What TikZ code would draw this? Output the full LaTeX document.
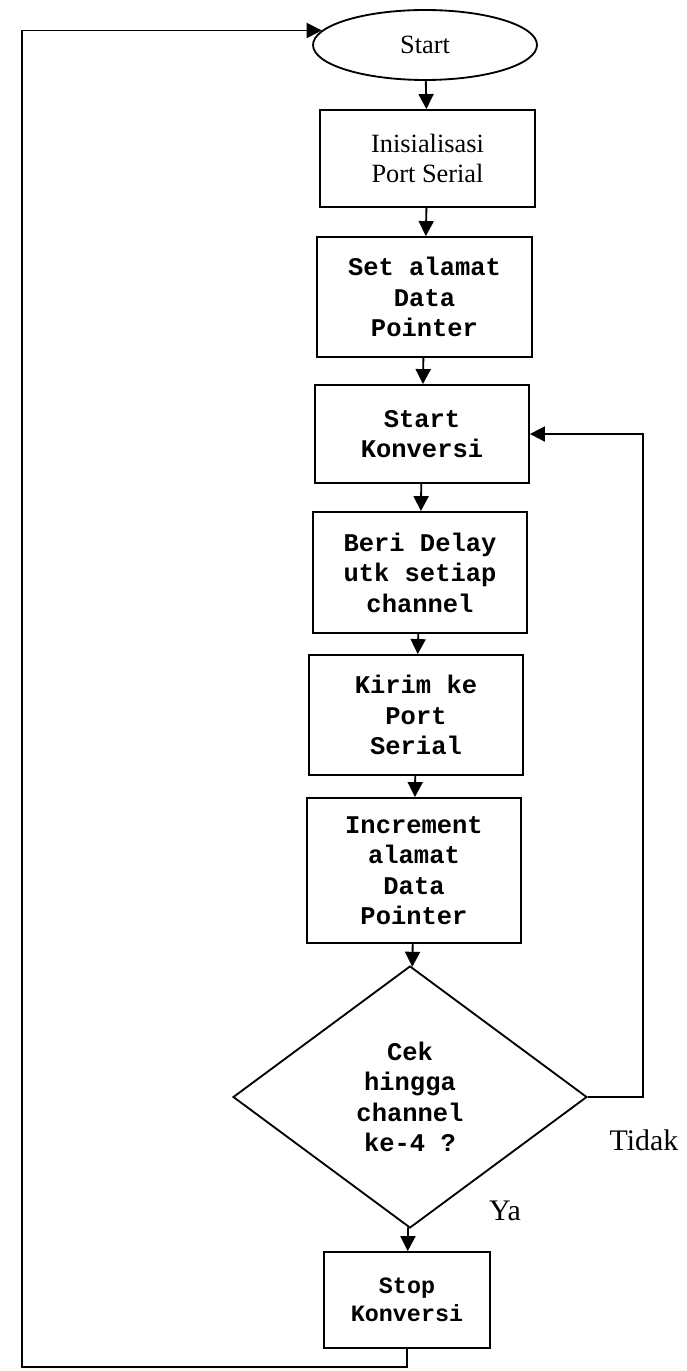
\documentclass[tikz,border=0pt]{standalone}
\usepackage{fontspec}
\setmainfont{Liberation Serif}
\newfontfamily\cour{Liberation Mono}
\usetikzlibrary{shapes.geometric,arrows.meta}
\begin{document}
\begin{tikzpicture}[x=0.02cm,y=-0.02cm,
  line width=1.05pt,
  arr/.style={-{Triangle[length=0.3cm,width=0.3cm]}},
  box/.style={draw, rectangle, align=center, inner sep=0pt,
    font=\cour\bfseries\fontsize{14.5}{17.3}\selectfont},
  serbox/.style={draw, rectangle, align=center, inner sep=0pt,
    font=\fontsize{15}{17.3}\selectfont},
  lbl/.style={font=\fontsize{17}{20}\selectfont, inner sep=0pt}]
\useasboundingbox (0,0) rectangle (686,1371);
\fill[white] (0,0) rectangle (686,1371);

\node[draw, ellipse, minimum width=4.48cm, minimum height=1.4cm, inner sep=0pt,
  font=\fontsize{15}{17.3}\selectfont] (start) at (425,45) {Start};
\node[serbox, minimum width=4.3cm, minimum height=1.94cm] (b1) at (427.5,158.5) {Inisialisasi\\Port Serial};
\node[box, minimum width=4.3cm, minimum height=2.4cm] (b2) at (424.5,297) {Set alamat\\Data\\Pointer};
\node[box, minimum width=4.28cm, minimum height=1.96cm] (b3) at (422,434) {Start\\Konversi};
\node[box, minimum width=4.28cm, minimum height=2.42cm] (b4) at (420,572.5) {Beri Delay\\utk setiap\\channel};
\node[box, minimum width=4.28cm, minimum height=2.4cm] (b5) at (416,715) {Kirim ke\\Port\\Serial};
\node[box, minimum width=4.28cm, minimum height=2.9cm] (b6) at (414,870.5) {Increment\\alamat\\Data\\Pointer};
\node[box, shape=diamond, shape aspect=1.35, minimum width=7.08cm, minimum height=5.24cm] (dec) at (410,1097) {Cek\\hingga\\channel\\ke-4 ?};
\node[box, minimum width=3.32cm, minimum height=1.92cm,
  font=\cour\bfseries\fontsize{13.3}{16}\selectfont] (stop) at (407,1300) {Stop\\Konversi};

\node[lbl] (tidak) at (644,1140) {Tidak};
\node[lbl] (ya) at (505,1211) {Ya};

\coordinate (bl) at (22,1367);
\coordinate (rc) at (643,1097);

\draw[arr] (start) -- (b1);
\draw[arr] (b1) -- (b2);
\draw[arr] (b2) -- (b3);
\draw[arr] (b3) -- (b4);
\draw[arr] (b4) -- (b5);
\draw[arr] (b5) -- (b6);
\draw[arr] (b6) -- (dec);
\draw[arr] (dec) -- (stop);
\draw[arr] (dec.east) -| (rc |- b3.east) -- (b3.east);
\draw[arr] (stop.south) |- (bl) |- (start.172);
\end{tikzpicture}
\end{document}
